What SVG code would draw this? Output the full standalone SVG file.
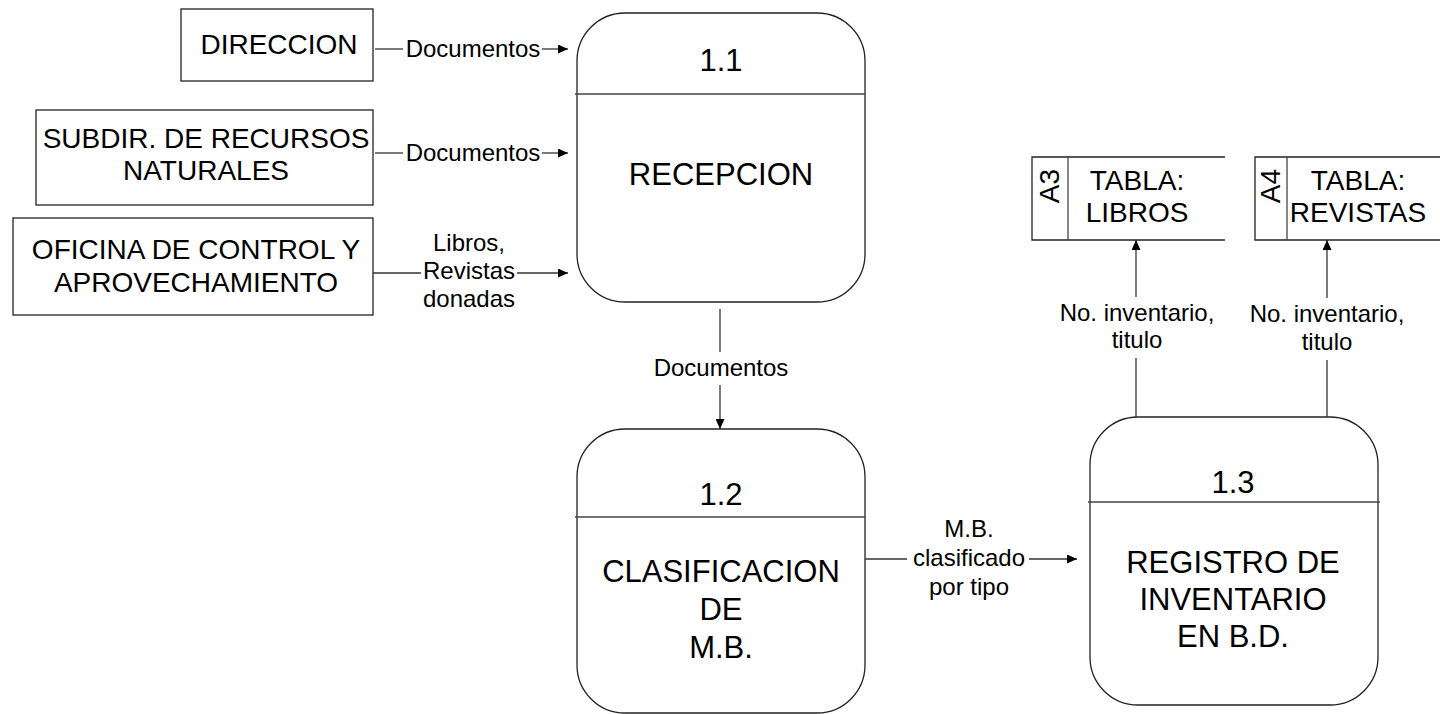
<svg xmlns="http://www.w3.org/2000/svg" width="1440" height="714" viewBox="0 0 1440 714">
<style>
text{font-family:"Liberation Sans",Arial,sans-serif;fill:#000;text-anchor:middle}
.ent{font-size:28px}
.proc{font-size:31px}
.lbl{font-size:24px}
.box{fill:#fff;stroke:#222;stroke-width:1.3}
.div{stroke:#444;stroke-width:1.3}
.flow{stroke:#333;stroke-width:1.3;fill:none}
</style>
<defs>
<marker id="ah" markerUnits="userSpaceOnUse" markerWidth="10" markerHeight="9" refX="10" refY="4.5" orient="auto">
<path d="M0,0 L10,4.5 L0,9 z" fill="#000"/>
</marker>
</defs>
<rect width="1440" height="714" fill="#fff"/>
<g id="direccion">
<rect class="box" x="181" y="9" width="192" height="72"/>
<text class="ent" x="279" y="54">DIRECCION</text>
</g>
<g id="subdir">
<rect class="box" x="36" y="110" width="337" height="95"/>
<text class="ent" x="206" y="148">SUBDIR. DE RECURSOS</text>
<text class="ent" x="206" y="180">NATURALES</text>
</g>
<g id="oficina">
<rect class="box" x="13" y="218" width="360" height="97"/>
<text class="ent" x="196" y="259">OFICINA DE CONTROL Y</text>
<text class="ent" x="196" y="292">APROVECHAMIENTO</text>
</g>
<g id="p11">
<rect class="box" x="577" y="13" width="288" height="289" rx="48" ry="48"/>
<line class="div" x1="575" y1="94" x2="865" y2="94"/>
<text class="proc" x="721" y="71">1.1</text>
<text class="proc" x="721" y="185">RECEPCION</text>
</g>
<g id="p12">
<rect class="box" x="577" y="429" width="288" height="284" rx="48" ry="48"/>
<line class="div" x1="575" y1="517" x2="865" y2="517"/>
<text class="proc" x="721" y="505">1.2</text>
<text class="proc" x="721" y="582">CLASIFICACION</text>
<text class="proc" x="721" y="620">DE</text>
<text class="proc" x="721" y="658">M.B.</text>
</g>
<g id="p13">
<rect class="box" x="1090" y="417" width="288" height="288" rx="48" ry="48"/>
<line class="div" x1="1088" y1="502" x2="1380" y2="502"/>
<text class="proc" x="1233" y="493">1.3</text>
<text class="proc" x="1233" y="573">REGISTRO DE</text>
<text class="proc" x="1233" y="610">INVENTARIO</text>
<text class="proc" x="1233" y="647">EN B.D.</text>
</g>
<g id="a3">
<path class="box" d="M1225,157 H1032 V240 H1225" style="fill:#fff"/>
<line class="div" x1="1068" y1="157" x2="1068" y2="240"/>
<text class="ent" transform="translate(1059,186) rotate(-90)" x="0" y="0">A3</text>
<text class="ent" x="1137" y="190">TABLA:</text>
<text class="ent" x="1137" y="222">LIBROS</text>
</g>
<g id="a4">
<path class="box" d="M1440,157 H1255 V240 H1440" style="fill:#fff"/>
<line class="div" x1="1287" y1="157" x2="1287" y2="240"/>
<text class="ent" transform="translate(1280,186) rotate(-90)" x="0" y="0">A4</text>
<text class="ent" x="1358" y="190">TABLA:</text>
<text class="ent" x="1358" y="222">REVISTAS</text>
</g>
<g id="connectors">
<line class="flow" x1="375" y1="49" x2="403" y2="49"/>
<line class="flow" x1="542" y1="49" x2="568" y2="49" marker-end="url(#ah)"/>
<text class="lbl" x="473" y="57">Documentos</text>
<line class="flow" x1="375" y1="153" x2="403" y2="153"/>
<line class="flow" x1="542" y1="153" x2="568" y2="153" marker-end="url(#ah)"/>
<text class="lbl" x="473" y="161">Documentos</text>
<line class="flow" x1="373" y1="273" x2="421" y2="273"/>
<line class="flow" x1="517" y1="273" x2="568" y2="273" marker-end="url(#ah)"/>
<text class="lbl" x="469" y="251">Libros,</text>
<text class="lbl" x="469" y="279">Revistas</text>
<text class="lbl" x="469" y="307">donadas</text>
<line class="flow" x1="720" y1="309" x2="720" y2="352"/>
<line class="flow" x1="720" y1="385" x2="720" y2="429" marker-end="url(#ah)"/>
<text class="lbl" x="721" y="376">Documentos</text>
<line class="flow" x1="865" y1="559" x2="907" y2="559"/>
<line class="flow" x1="1029" y1="559" x2="1077" y2="559" marker-end="url(#ah)"/>
<text class="lbl" x="969" y="537">M.B.</text>
<text class="lbl" x="969" y="566">clasificado</text>
<text class="lbl" x="969" y="595">por tipo</text>
<line class="flow" x1="1136" y1="417" x2="1136" y2="358"/>
<line class="flow" x1="1136" y1="297" x2="1136" y2="240" marker-end="url(#ah)"/>
<text class="lbl" x="1137" y="321">No. inventario,</text>
<text class="lbl" x="1137" y="348">titulo</text>
<line class="flow" x1="1327" y1="417" x2="1327" y2="360"/>
<line class="flow" x1="1327" y1="298" x2="1327" y2="240" marker-end="url(#ah)"/>
<text class="lbl" x="1327" y="322">No. inventario,</text>
<text class="lbl" x="1327" y="350">titulo</text>
</g>
</svg>
